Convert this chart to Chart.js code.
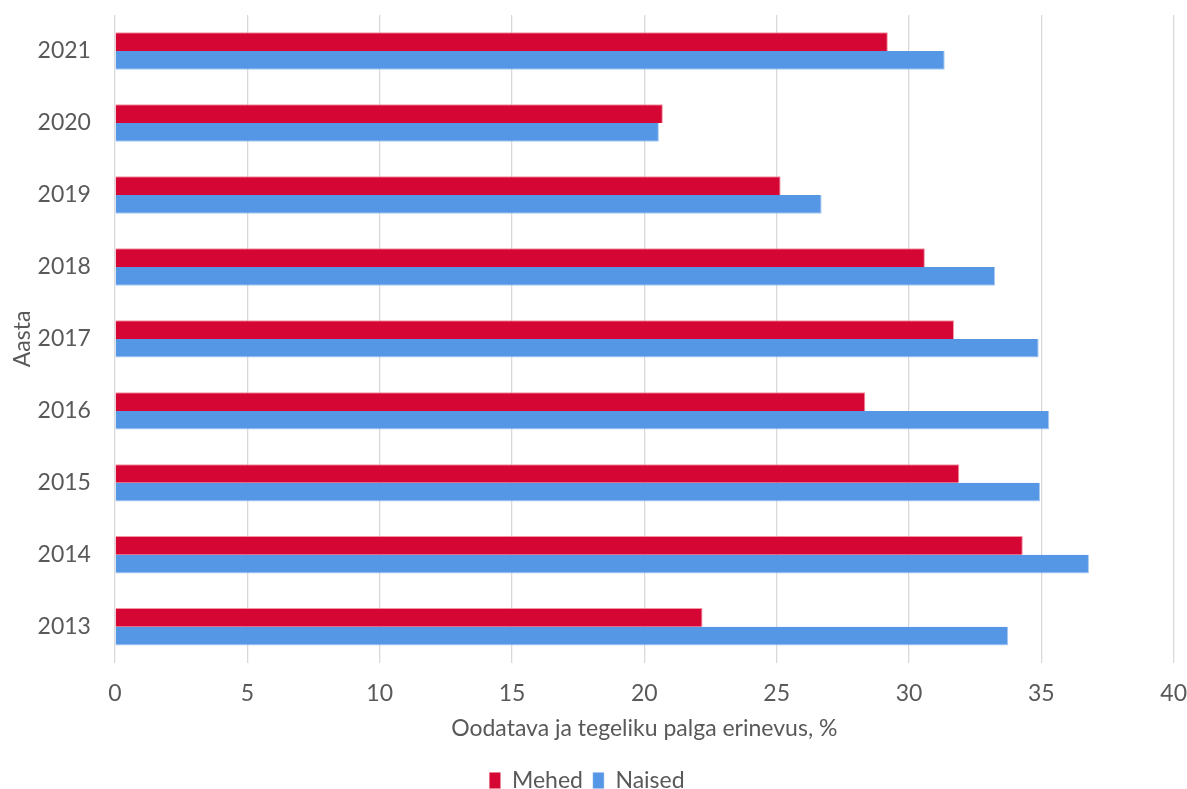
<!DOCTYPE html>
<html>
<head>
<meta charset="utf-8">
<script src="https://cdn.jsdelivr.net/npm/chart.js@4/dist/chart.umd.min.js"></script>
<style>
  html, body { margin: 0; padding: 0; background: #fff; }
  #wrap { width: 1187px; height: 789px; }
</style>
</head>
<body>
<div id="wrap"><canvas id="myChart" width="1187" height="789"></canvas></div>
<script>
// years, top to bottom
var years = ['2021', '2020', '2019', '2018', '2017', '2016', '2015', '2014', '2013'];
var mehed = [29.2, 20.7, 25.15, 30.6, 31.7, 28.35, 31.9, 34.3, 22.2];
var naised = [31.35, 20.55, 26.7, 33.25, 34.9, 35.3, 34.95, 36.8, 33.75];
var xTicks = [0, 5, 10, 15, 20, 25, 30, 35, 40];

var red = '#d50534';
var blue = '#5596e5';
var textColor = '#595959';
var fontFamily = 'Lato, "Open Sans", sans-serif';
var fontSize = 23;
var clear = 'rgba(0,0,0,0)';

var ctx = document.getElementById('myChart');
var myChart = new Chart(ctx, {
  type: 'bar',
  data: {
    labels: years,
    datasets: [{
      label: 'Mehed',
      data: mehed,
      backgroundColor: red,
      borderColor: 'rgba(240,120,140,0.8)',
      borderWidth: { top: 1, right: 1, bottom: 0, left: 0 },
      categoryPercentage: 0.52,
      barPercentage: 1
    }, {
      label: 'Naised',
      data: naised,
      backgroundColor: blue,
      borderColor: 'rgba(160,195,240,0.9)',
      borderWidth: { top: 0, right: 1, bottom: 1, left: 0 },
      categoryPercentage: 0.52,
      barPercentage: 1
    }]
  },
  options: {
    indexAxis: 'y',
    responsive: false,
    maintainAspectRatio: false,
    animation: false,
    // negative bottom pushes the legend down like the original
    layout: { padding: { top: 15, right: 13, left: 0, bottom: -13 } },
    scales: {
      x: {
        min: xTicks[0],
        max: xTicks[xTicks.length - 1],
        afterBuildTicks: function(axis) {
          axis.ticks = xTicks.map(function(v) { return { value: v }; });
        },
        grid: { color: '#d9d9d9', lineWidth: 1.3, drawTicks: true, tickLength: 17, tickColor: clear },
        border: { display: false },
        ticks: { color: textColor, font: { family: fontFamily, size: fontSize }, padding: 0, autoSkip: false, maxRotation: 0 },
        title: {
          display: true,
          text: 'Oodatava ja tegeliku palga erinevus, %',
          color: textColor,
          font: { family: fontFamily, size: fontSize },
          padding: { top: 7, bottom: 17 }
        }
      },
      y: {
        grid: { display: true, color: clear, drawTicks: true, tickLength: 24, tickColor: clear },
        border: { display: false },
        ticks: { color: textColor, font: { family: fontFamily, size: fontSize }, padding: 0 },
        title: {
          display: true,
          text: 'Aasta',
          color: textColor,
          font: { family: fontFamily, size: fontSize },
          padding: { top: 9, bottom: 1 }
        }
      }
    },
    plugins: {
      legend: {
        position: 'bottom',
        labels: {
          color: textColor,
          font: { family: fontFamily, size: fontSize },
          boxWidth: 11,
          boxHeight: 16,
          padding: 10
        }
      },
      tooltip: { enabled: false }
    }
  }
});
</script>
</body>
</html>
